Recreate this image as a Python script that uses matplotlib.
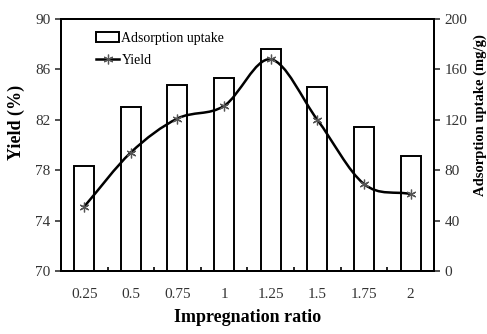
import matplotlib
matplotlib.use('Agg')
import matplotlib.pyplot as plt
import numpy as np
from matplotlib.path import Path
from matplotlib.patches import PathPatch
from matplotlib.lines import Line2D

plt.rcParams['font.family'] = ['Liberation Serif', 'DejaVu Serif']

ratios = ['0.25', '0.5', '0.75', '1', '1.25', '1.5', '1.75', '2']
uptake = [83, 130, 148, 153, 176, 146, 114, 91]          # mg/g
yield_pct = [75.1, 79.4, 82.1, 83.1, 86.8, 82.0, 76.9, 76.1]  # %

x = np.arange(len(ratios))

fig = plt.figure(figsize=(4.87, 3.34), dpi=100)
ax = fig.add_axes([0.125, 0.189, 0.766, 0.754])
ax2 = ax.twinx()

# bars on the right axis
ax2.bar(x, uptake, width=0.43, facecolor='white', edgecolor='black', linewidth=1.4, zorder=1)
ax2.set_ylim(0, 200)
ax2.set_yticks([0, 40, 80, 120, 160, 200])
ax2.set_ylabel('Adsorption uptake (mg/g)', fontsize=10.5, fontweight='bold')
ax2.yaxis.set_label_coords(1.107, 0.62)

# smooth yield curve (Catmull-Rom as bezier segments)
pts = np.column_stack([x, yield_pct]).astype(float)
ext = np.vstack([2 * pts[0] - pts[1], pts, 2 * pts[-1] - pts[-2]])
verts = [tuple(pts[0])]
codes = [Path.MOVETO]
for i in range(1, len(ext) - 2):
    p0, p1, p2, p3 = ext[i - 1], ext[i], ext[i + 1], ext[i + 2]
    c1 = p1 + (p2 - p0) / 6
    c2 = p2 - (p3 - p1) / 6
    verts += [tuple(c1), tuple(c2), tuple(p2)]
    codes += [Path.CURVE4] * 3

ax3 = ax.twinx()
ax3.set_ylim(70, 90)
ax3.axis('off')
ax3.add_patch(PathPatch(Path(verts, codes), facecolor='none', edgecolor='black', lw=1.8, zorder=3))
ax3.plot(x, yield_pct, ls='none', marker=(6, 2, 0), ms=7, mec='#555555', mew=0.9, zorder=4)

ax.set_ylim(70, 90)
ax.set_yticks([70, 74, 78, 82, 86, 90])
ax.set_xlim(-0.5, len(ratios) - 0.5)
ax.set_xticks(x)
ax.set_xticklabels(ratios)
ax.set_xticks(x[:-1] + 0.5, minor=True)
ax.tick_params(axis='x', which='major', length=0, pad=12)
ax.tick_params(axis='x', which='minor', direction='in', length=3, width=1.2)
ax.tick_params(axis='y', direction='out', length=4, width=1.2)
ax2.tick_params(axis='y', direction='out', length=4, width=1.2)
ax.set_ylabel('Yield (%)', fontsize=13, fontweight='bold')
ax.yaxis.set_label_coords(-0.097, 0.59)
ax.set_xlabel('Impregnation ratio', fontsize=13, fontweight='bold', labelpad=6)
for a in (ax, ax2):
    a.tick_params(labelsize=11, colors='#333333', labelcolor='#333333')
    for s in a.spines.values():
        s.set_linewidth(1.4)

handles = [
    plt.Rectangle((0, 0), 1, 1, facecolor='white', edgecolor='black', linewidth=1.4),
    Line2D([], [], color='black', lw=1.8, marker=(6, 2, 0), ms=7, mec='#555555', mew=0.9),
]
ax3.legend(handles, ['Adsorption uptake', 'Yield'], loc='upper left', bbox_to_anchor=(0.06, 1.0),
           frameon=False, fontsize=10, handlelength=1.7, handletextpad=0.15, labelspacing=0.7)

fig.savefig('out.png', dpi=100)
